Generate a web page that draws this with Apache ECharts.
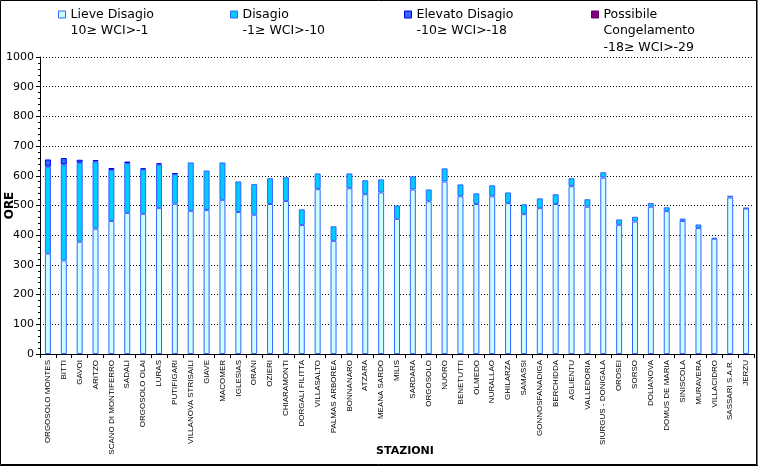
<!DOCTYPE html>
<html>
<head>
<meta charset="utf-8">
<script src="https://cdn.jsdelivr.net/npm/echarts@6/dist/echarts.min.js"></script>
<style>
html,body{margin:0;padding:0;background:#fff;}
#chart{width:758px;height:466px;}
</style>
</head>
<body>
<div id="chart"></div>
<script>
const stations = ['ORGOSOLO MONTES','BITTI','GAVOI','ARITZO','SCANO DI MONTIFERRO','SADALI','ORGOSOLO OLAI','LURAS','PUTIFIGARI','VILLANOVA STRISAILI','GIAVE','MACOMER','IGLESIAS','ORANI','OZIERI','CHIARAMONTI','DORGALI FILITTA','VILLASALTO','PALMAS ARBOREA','BONNANARO','ATZARA','MEANA SARDO','MILIS','SARDARA','ORGOSOLO','NUORO','BENETUTTI','OLMEDO','NURALLAO','GHILARZA','SAMASSI','GONNOSFANADIGA','BERCHIDDA','AGLIENTU','VALLEDORIA','SIURGUS - DONIGALA','OROSEI','SORSO','DOLIANOVA','DOMUS DE MARIA','SINISCOLA','MURAVERA','VILLACIDRO','SASSARI S.A.R.','JERZU'];
const lieve = [338,315,378,422,448,475,472,492,506,482,485,519,478,469,505,515,434,555,381,558,538,544,455,554,514,581,531,505,531,508,471,491,505,565,496,594,435,446,496,481,448,424,388,527,490];
const disagio = [293,323,266,226,172,168,150,146,100,163,133,126,103,103,87,80,53,53,49,50,47,44,45,44,40,44,40,36,37,36,33,33,33,27,25,18,18,16,12,13,8,12,3,6,2];
const elevato = [24,22,10,5,6,5,3,4,3,0,0,0,0,0,0,0,0,0,0,0,0,0,0,0,0,0,0,0,0,0,0,0,0,0,0,0,0,0,0,0,0,0,0,0,0];
const congelamento = [0,0,0,0,0,0,0,0,0,0,0,0,0,0,0,0,0,0,0,0,0,0,0,0,0,0,0,0,0,0,0,0,0,0,0,0,0,0,0,0,0,0,0,0,0];
const seriesNames = ['Lieve Disagio','Disagio','Elevato Disagio','Possibile Congelamento'];
const legendLabels = ['Lieve Disagio\n10≥ WCI>-1','Disagio\n-1≥ WCI>-10','Elevato Disagio\n-10≥ WCI>-18','Possibile\nCongelamento\n-18≥ WCI>-29'];
const yTicks = [0,100,200,300,400,500,600,700,800,900,1000];

const fills = ['#CCFFFF','#00CCFF','#3366FF','#800080'];
const borders = ['#3366FF','#3366FF','#0000EE','#660066'];
const legendX = [58,230,404,591];
const LH = 16.5;
const ICON_Y = 14.5;
const nz = a => a.map(v => v === 0 ? null : v);
const datas = [lieve, disagio, elevato, congelamento];

const chart = echarts.init(document.getElementById('chart'), null, {renderer:'canvas'});
const legends = seriesNames.map((n,i) => {
  const lines = legendLabels[i].split('\n').length;
  const label = '\n'.repeat(lines-1) + legendLabels[i];
  const top = ICON_Y - (2*lines-1)*LH/2;
  return {
    data:[n], left: legendX[i], top: top, padding:0,
    icon:'rect', itemWidth:7, itemHeight:7,
    itemStyle:{color:fills[i], borderColor:borders[i], borderWidth:1},
    selectedMode:false,
    formatter: () => label,
    textStyle:{fontFamily:'DejaVu Sans', fontSize:12.5, color:'#000', lineHeight:LH}
  };
});

chart.setOption({
  animation:false,
  backgroundColor:'#fff',
  legend: legends,
  grid:{left:40, right:4, top:57, bottom:112, containLabel:false, outerBoundsMode:'none'},
  xAxis:{
    type:'category', data:stations,
    name:'STAZIONI', nameLocation:'middle', nameGap:92, nameMoveOverlap:false,
    nameTextStyle:{fontFamily:'DejaVu Sans', fontWeight:'bold', fontSize:11, color:'#000', padding:[0,0,0,16]},
    axisLine:{lineStyle:{color:'#000', width:1}},
    axisTick:{show:true, length:4, lineStyle:{color:'#000'}},
    axisLabel:{interval:0, rotate:90, fontFamily:'Liberation Sans', fontSize:8, color:'#000', margin:6}
  },
  yAxis:{
    type:'value', min:0, max:1000, interval:100,
    name:'ORE', nameLocation:'middle', nameGap:24, nameRotate:90, nameMoveOverlap:false,
    nameTextStyle:{fontFamily:'DejaVu Sans', fontWeight:'bold', fontSize:12, color:'#000'},
    axisLine:{show:true, lineStyle:{color:'#000', width:1}},
    axisTick:{show:true, length:4, lineStyle:{color:'#000'}},
    minorTick:{show:true, splitNumber:5, length:2, lineStyle:{color:'#000'}},
    axisLabel:{fontFamily:'DejaVu Sans', fontSize:11, color:'#000', margin:6,
      formatter: v => yTicks.indexOf(v) >= 0 ? String(v) : ''},
    splitLine:{show:true, lineStyle:{color:'#000', type:[1,2], width:1}}
  },
  series: seriesNames.map((n,i) => ({
    name:n, type:'bar', stack:'tot', barWidth:6,
    data: nz(datas[i]),
    itemStyle:{color:fills[i], borderColor:borders[i], borderWidth:1}
  })),
  graphic:[
    {type:'rect', silent:true, z:100, shape:{x:0.5, y:0.5, width:756, height:464}, style:{fill:null, stroke:'#000', lineWidth:1}},
    {type:'line', silent:true, z:100, shape:{x1:757, y1:0, x2:757, y2:466}, style:{stroke:'#000', lineWidth:1}},
    {type:'line', silent:true, z:100, shape:{x1:0, y1:465.5, x2:758, y2:465.5}, style:{stroke:'#000', lineWidth:1}}
  ]
});
</script>
</body>
</html>
